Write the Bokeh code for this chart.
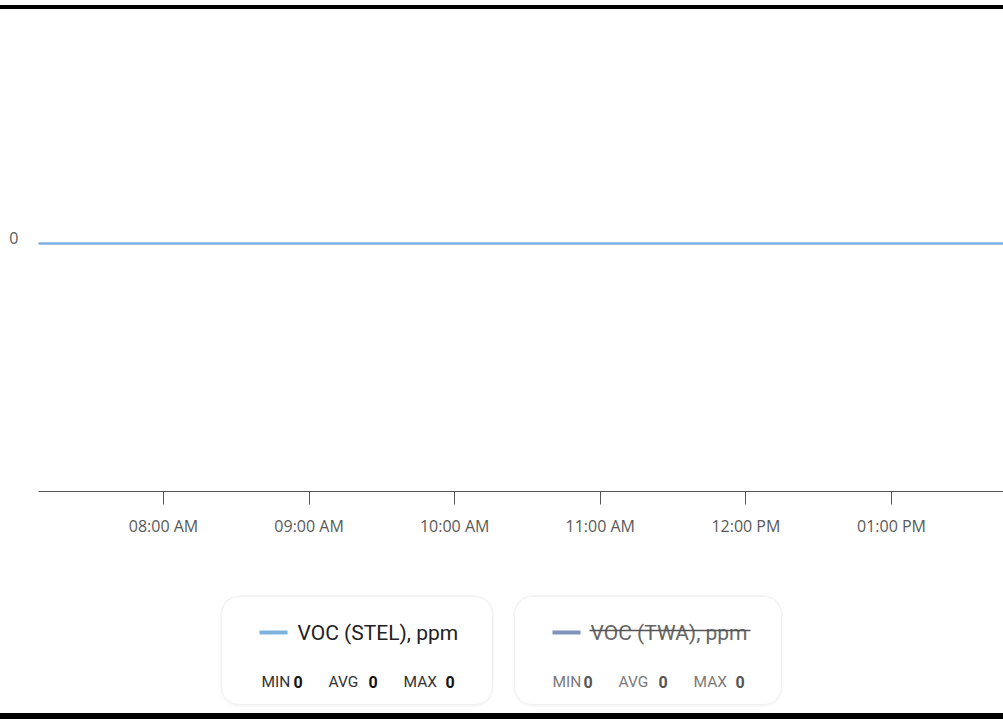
import pandas as pd
from bokeh.plotting import figure
from bokeh.models import Range1d, FixedTicker, ColumnDataSource, LinearAxis, Spacer
from bokeh.layouts import column
from bokeh.embed import file_html
from bokeh.resources import INLINE
from bokeh.core.properties import value

# ---------------- data ----------------
day = "2024-05-14"
times = ["07:00", "08:00", "09:00", "10:00", "11:00", "12:00", "13:00", "14:00"]
stel_values = [0, 0, 0, 0, 0, 0, 0, 0]
twa_values = [0, 0, 0, 0, 0, 0, 0, 0]
tick_hours = ["08:00", "09:00", "10:00", "11:00", "12:00", "13:00"]
tick_labels = ["08:00 AM", "09:00 AM", "10:00 AM", "11:00 AM", "12:00 PM", "01:00 PM"]
x_start, x_end = "07:08:30", "13:46:10"
y_ticks = [0]
series_names = ["VOC (STEL), ppm", "VOC (TWA), ppm"]
series_colors = ["#7db1df", "#7e95b9"]
series_visible = [True, False]
stat_names = ["MIN", "AVG", "MAX"]
stel_stats = [0, 0, 0]
twa_stats = [0, 0, 0]


def ms(t):
    return pd.Timestamp(f"{day} {t}").value // 10**6


AXFONT = "Open Sans"
LFONT = value("Roboto")
W = 1003

# ---------------- main chart ----------------
src = ColumnDataSource(dict(t=[ms(t) for t in times], stel=stel_values, twa=twa_values))

p = figure(width=W, height=551, x_axis_type="datetime",
           x_range=Range1d(ms(x_start), ms(x_end)),
           y_range=Range1d(-248, 234),
           toolbar_location=None, output_backend="svg",
           min_border_left=38, min_border_right=0, min_border_top=0,
           min_border_bottom=69)
p.outline_line_color = None
p.grid.visible = False
p.background_fill_color = "white"
p.border_fill_color = "white"

if series_visible[0]:
    p.line("t", "stel", source=src, line_color=series_colors[0], line_width=2.4)
if series_visible[1]:
    p.line("t", "twa", source=src, line_color=series_colors[1], line_width=2.4)

tick_ms = [ms(t) for t in tick_hours]
xa = p.xaxis[0]
xa.ticker = FixedTicker(ticks=tick_ms)
xa.major_label_overrides = {t: l for t, l in zip(tick_ms, tick_labels)}
xa.axis_line_color = "#555555"
xa.axis_line_width = 1.2
xa.major_tick_line_color = "#555555"
xa.major_tick_out = 13
xa.major_tick_in = 0
xa.minor_tick_line_color = None
xa.major_label_standoff = 10
xa.major_label_text_font = AXFONT
xa.major_label_text_font_size = "16px"
xa.major_label_text_color = "#5a5a5a"

# y labels sit slightly above their gridline (label baseline on the line)
p.yaxis.visible = False
p.extra_y_ranges = {"lab": Range1d(-254, 228)}
ya = LinearAxis(y_range_name="lab", ticker=FixedTicker(ticks=y_ticks))
ya.axis_line_color = None
ya.major_tick_line_color = None
ya.minor_tick_line_color = None
ya.major_tick_out = 0
ya.major_tick_in = 0
ya.major_label_standoff = 20
ya.major_label_text_font = AXFONT
ya.major_label_text_font_size = "16px"
ya.major_label_text_color = "#5a5a5a"
p.add_layout(ya, "left")

# ---------------- legend cards ----------------
pl = figure(width=W, height=153, x_range=Range1d(38, 1003), y_range=Range1d(713, 560),
            toolbar_location=None, output_backend="svg",
            min_border_left=38, min_border_right=0,
            min_border_top=0, min_border_bottom=0)
pl.axis.visible = False
pl.grid.visible = False
pl.outline_line_color = None

card_left = [221, 514]
card_right = [492, 781]
card_top, card_bottom = 596, 704
pl.quad(left=[l - 1.5 for l in card_left], right=[r + 1.5 for r in card_right],
        top=card_top - 1.5, bottom=card_bottom + 2.5, fill_color="#000000",
        fill_alpha=0.03, line_color=None, border_radius=20)
pl.quad(left=card_left, right=card_right, top=card_top, bottom=card_bottom,
        fill_color="white", line_color="#f0f0f0", line_width=1, border_radius=18)

title_colors = ["#222222", "#666666"]
stat_label_colors = ["#333333", "#7a7a7a"]
stat_value_colors = ["#111111", "#555555"]
title_x = [297, 590]
swatch_x0 = [259, 552]
swatch_x1 = [287, 580]
stat_label_x = [[261, 328, 403], [552, 618, 693]]
stat_value_x = [[293, 368, 445], [583, 658, 735]]
all_stats = [stel_stats, twa_stats]

for i in range(2):
    pl.segment(x0=[swatch_x0[i]], x1=[swatch_x1[i]], y0=[632], y1=[632],
               line_color=series_colors[i], line_width=4)
    pl.text(x=[title_x[i]], y=[632], text=[series_names[i]], text_font=LFONT,
            text_font_size="21px", text_color=title_colors[i],
            text_baseline="middle", text_align="left")
    if not series_visible[i]:
        pl.segment(x0=[title_x[i] - 1], x1=[title_x[i] + 160], y0=[630], y1=[630],
                   line_color="#555555", line_width=1.5)
    pl.text(x=stat_label_x[i], y=[681] * 3, text=stat_names, text_font=LFONT,
            text_font_size="15.5px", text_color=stat_label_colors[i],
            text_baseline="middle", text_align="left")
    pl.text(x=stat_value_x[i], y=[681] * 3, text=[str(v) for v in all_stats[i]],
            text_font=LFONT, text_font_size="16px", text_font_style="bold",
            text_color=stat_value_colors[i], text_baseline="middle", text_align="left")

# black bars at top and bottom of the screenshot
gap_top = Spacer(width=W, height=5)
bar_top = Spacer(width=W, height=4, styles={"background-color": "black"})
bar_bottom = Spacer(width=W, height=6, styles={"background-color": "black"})

layout = column(gap_top, bar_top, p, pl, bar_bottom, spacing=0)
open("out.html", "w").write(file_html(layout, INLINE))
